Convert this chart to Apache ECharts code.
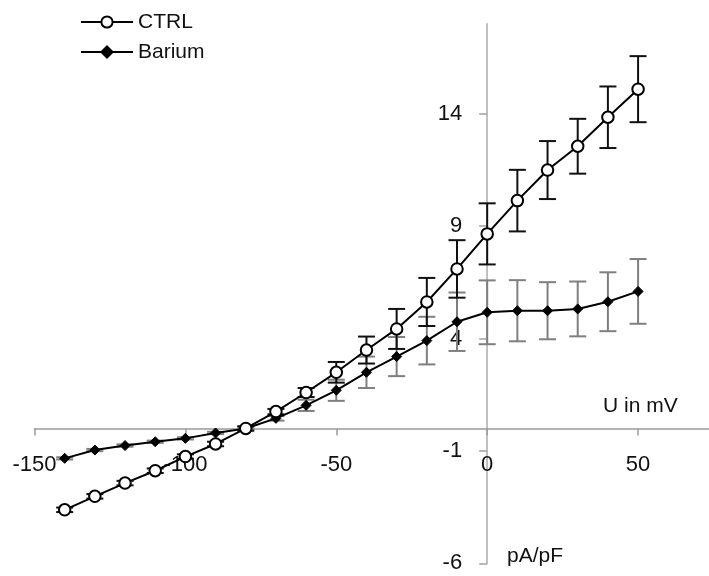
<!DOCTYPE html>
<html>
<head>
<meta charset="utf-8">
<script src="https://cdn.jsdelivr.net/npm/echarts@6/dist/echarts.min.js"></script>
<style>html,body{margin:0;padding:0;background:#fff;}#c{width:709px;height:576px;}</style>
</head>
<body>
<div id="c"></div>
<script>
const voltages = [-140,-130,-120,-110,-100,-90,-80,-70,-60,-50,-40,-30,-20,-10,0,10,20,30,40,50];
const ctrl      = [-3.62,-3.02,-2.43,-1.88,-1.25,-0.69,0.0,0.75,1.6,2.5,3.49,4.43,5.63,7.1,8.66,10.14,11.5,12.56,13.85,15.1];
const ctrlErr   = [0.1,0.1,0.1,0.1,0.1,0.1,0.1,0.12,0.2,0.46,0.6,0.89,1.07,1.28,1.36,1.37,1.29,1.22,1.37,1.47];
const barium    = [-1.33,-0.96,-0.76,-0.59,-0.44,-0.2,0.0,0.45,1.03,1.7,2.5,3.2,3.91,4.75,5.17,5.24,5.24,5.32,5.64,6.1];
const bariumErr = [0.05,0.05,0.05,0.05,0.05,0.05,0.05,0.1,0.25,0.47,0.7,0.87,1.06,1.3,1.42,1.36,1.27,1.22,1.31,1.44];
const xTicks = [-150,-100,-50,0,50];
const yTicks = [-6,-1,4,9,14];

const FONT = 'Liberation Sans';
const TXT = '#111';

const GRID = {left:34.5, width:674.5, top:24, height:539.3};
const X_MIN = -150, X_MAX = 73.5, Y_MIN = -6, Y_MAX = 18;
// shift axes so they cross at zero
const xAxisOffset = -(0 - Y_MIN) / (Y_MAX - Y_MIN) * GRID.height;
const yAxisOffset = -(0 - X_MIN) / (X_MAX - X_MIN) * GRID.width;

function pts(ys){ return voltages.map((x,i)=>[x, ys[i]]); }
function errData(ys, es){ return voltages.map((x,i)=>[x, ys[i]-es[i], ys[i]+es[i]]); }

function errRender(color){
  return function(params, api){
    const x = api.value(0);
    const lo = api.coord([x, api.value(1)]);
    const hi = api.coord([x, api.value(2)]);
    const hw = 8.5;
    const st = {stroke: color, lineWidth: 2};
    return {type:'group', children:[
      {type:'line', shape:{x1:lo[0],y1:lo[1],x2:hi[0],y2:hi[1]}, style:st},
      {type:'line', shape:{x1:lo[0]-hw,y1:lo[1],x2:lo[0]+hw,y2:lo[1]}, style:st},
      {type:'line', shape:{x1:hi[0]-hw,y1:hi[1],x2:hi[0]+hw,y2:hi[1]}, style:st}
    ]};
  };
}

const chart = echarts.init(document.getElementById('c'), null, {renderer:'canvas'});
chart.setOption({
  animation:false,
  backgroundColor:'#fff',
  grid:Object.assign({outerBoundsMode:'none', containLabel:false}, GRID),
  legend:{
    orient:'vertical', left:75, top:6.5, itemWidth:52, itemHeight:14, itemGap:9,
    textStyle:{fontFamily:FONT, fontSize:21, color:TXT},
    data:['CTRL','Barium']
  },
  xAxis:{
    type:'value', min:X_MIN, max:X_MAX, interval:50, position:'bottom', offset:xAxisOffset,
    axisLine:{onZero:false, lineStyle:{color:'#9a9a9a', width:1.5}},
    axisTick:{show:true, length:7, customValues:xTicks, lineStyle:{color:'#9a9a9a', width:1.5}},
    axisLabel:{customValues:xTicks, margin:25, fontFamily:FONT, fontSize:22, color:TXT},
    splitLine:{show:false}
  },
  yAxis:{
    type:'value', min:Y_MIN, max:Y_MAX, interval:5, position:'left', offset:yAxisOffset,
    axisLine:{onZero:false, lineStyle:{color:'#c0c0c0', width:2}},
    axisTick:{show:true, length:8, customValues:yTicks, lineStyle:{color:'#a0a0a0', width:1.5}},
    axisLabel:{customValues:yTicks, margin:25, fontFamily:FONT, fontSize:22, color:TXT},
    splitLine:{show:false}
  },
  graphic:[
    {type:'text', left:603, top:396, style:{text:'U in mV', font:'21px "Liberation Sans"', fill:TXT}},
    {type:'text', left:507, top:546, style:{text:'pA/pF', font:'21px "Liberation Sans"', fill:TXT}}
  ],
  series:[
    {name:'BariumErr', type:'custom', data:errData(barium,bariumErr), renderItem:errRender('#7f7f7f'), z:1, silent:true},
    {name:'CtrlErr', type:'custom', data:errData(ctrl,ctrlErr), renderItem:errRender('#111'), z:1, silent:true},
    {name:'Barium', type:'line', data:pts(barium), symbol:'diamond', symbolSize:10,
     lineStyle:{color:'#000', width:2}, itemStyle:{color:'#000', borderColor:'#000', borderWidth:1}, z:3},
    {name:'CTRL', type:'line', data:pts(ctrl), symbol:'circle', symbolSize:11.5,
     lineStyle:{color:'#000', width:2}, itemStyle:{color:'#fff', borderColor:'#000', borderWidth:2}, z:4}
  ]
});
</script>
</body>
</html>
